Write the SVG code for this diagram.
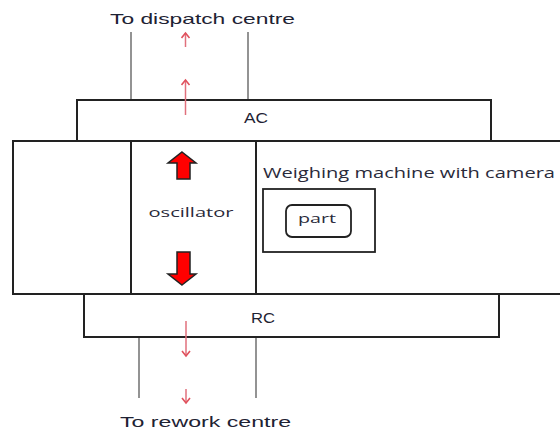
<svg xmlns="http://www.w3.org/2000/svg" width="560" height="432" viewBox="0 0 560 432">
<defs>
<style>
.box{fill:#fff;stroke:#222;stroke-width:2}
.guide{stroke:#6f6f6f;stroke-width:1.5;fill:none}
.flow{stroke:#e0707c;stroke-width:1.5;fill:none}
.big{fill:#f00;stroke:#222;stroke-width:1.5;stroke-linejoin:miter}
.t{font-family:"Open Sans",sans-serif;fill:#2a2a3a}
.a{font-family:"Liberation Sans",Arial,sans-serif;fill:#1e2233}
</style>
<marker id="ah" viewBox="0 0 10 10" refX="8" refY="5" markerWidth="10" markerHeight="10" markerUnits="userSpaceOnUse" orient="auto">
<path d="M3,1 L8,5 L3,9" fill="none" stroke="#e0505c" stroke-width="1.6"/>
</marker>
</defs>
<rect width="560" height="432" fill="#fff"/>
<g id="connectors">
<line class="guide" x1="131" y1="32" x2="131" y2="100"/>
<line class="guide" x1="248" y1="32" x2="248" y2="100"/>
<line class="guide" x1="139" y1="337" x2="139" y2="398"/>
<line class="guide" x1="256" y1="337" x2="256" y2="398"/>
</g>
<g id="AC">
<rect class="box" x="77" y="100" width="414" height="41"/>
<text class="a" x="256" y="123" font-size="14" text-anchor="middle" textLength="24" lengthAdjust="spacingAndGlyphs">AC</text>
</g>
<g id="RC">
<rect class="box" x="84" y="294" width="415" height="43"/>
<text class="a" x="263" y="323" font-size="14" text-anchor="middle" textLength="24" lengthAdjust="spacingAndGlyphs">RC</text>
</g>
<g id="main">
<rect class="box" x="13" y="141" width="560" height="153"/>
</g>
<g id="oscillator">
<rect class="box" x="131" y="141" width="125" height="153"/>
<text class="t" x="191" y="217" font-size="13.5" text-anchor="middle" textLength="85" lengthAdjust="spacingAndGlyphs">oscillator</text>
<path class="big" d="M182,152 L196,163 L190,163 L190,179 L177,179 L177,163 L168,163 Z"/>
<path class="big" d="M182,285 L196,274 L190,274 L190,252 L177,252 L177,274 L168,274 Z"/>
</g>
<g id="weighing">
<text class="t" x="263" y="178" font-size="14.5" textLength="292" lengthAdjust="spacingAndGlyphs">Weighing machine with camera</text>
<rect x="263" y="189" width="112" height="63" fill="#fff" stroke="#222" stroke-width="1.8"/>
<rect x="286" y="205" width="65" height="32" rx="6" fill="#fff" stroke="#222" stroke-width="1.8"/>
<text class="t" x="317" y="223" font-size="13.5" text-anchor="middle" textLength="38" lengthAdjust="spacingAndGlyphs">part</text>
</g>
<g id="flows">
<line class="flow" x1="185.5" y1="47" x2="185.5" y2="33" marker-end="url(#ah)"/>
<line class="flow" x1="185.5" y1="115" x2="185.5" y2="80" marker-end="url(#ah)"/>
<line class="flow" x1="186" y1="321" x2="186" y2="356" marker-end="url(#ah)"/>
<line class="flow" x1="186" y1="389" x2="186" y2="403" marker-end="url(#ah)"/>
</g>
<g id="labels">
<text class="a" x="110" y="24" font-size="15" textLength="185" lengthAdjust="spacingAndGlyphs">To dispatch centre</text>
<text class="a" x="120" y="427" font-size="15" textLength="171" lengthAdjust="spacingAndGlyphs">To rework centre</text>
</g>
</svg>
